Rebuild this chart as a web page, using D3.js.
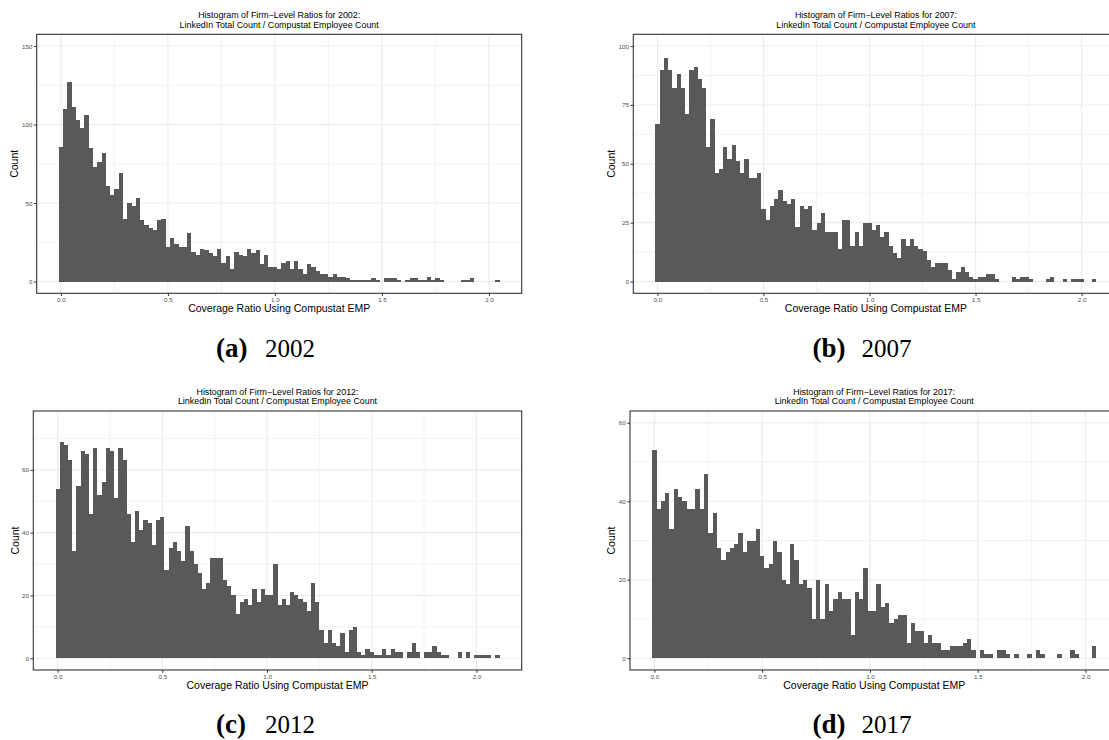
<!DOCTYPE html>
<html>
<head>
<meta charset="utf-8">
<script src="https://cdnjs.cloudflare.com/ajax/libs/d3/7.8.5/d3.min.js"></script>
<style>
  body { margin: 0; background: #fff; }
  svg { display: block; font-family: "Liberation Sans", Arial, sans-serif; }
</style>
</head>
<body>
<div id="chart"></div>
<script>
// histogram bins: width 0.02, first bin centred on 0
var binWidth = 0.02;
var binStart = -0.01;

var years = ["2002", "2007", "2012", "2017"];
var letters = ["(a)", "(b)", "(c)", "(d)"];

var counts2002 = [86,110,127,111,103,98,106,85,73,76, 82,61,55,59,69,40,50,48,53,39,
                  36,34,33,39,40,22,28,24,22,22, 31,19,17,21,20,18,16,21,12,16,
                  8,19,17,16,21,18,20,11,17,9, 9,8,12,13,
                  8,13,8,5,11,9,7,5,5,3, 5,3,3,2,1,1,1,1,1,2,
                  1,0,2,2,2,1,0,1,2,2, 1,1,3,1,2,1,0,0,0,0,
                  1,1,2,0,0,0,0,0,1];
var counts2007 = [67,90,95,90,82,88,82,71,90,91, 86,82,57,69,46,48,57,52,58,51,
                  46,52,44,44,46,31,26,32,35,39, 34,33,35,23,32,31,32,22,25,29,
                  21,21,21,14,26,26,
                  15,21,15,25,25,22,24,19,21,15, 12,10,18,15,18,15,14,13,9,6,
                  8,8,8,5,1,4,6,4,2,1, 2,2,3,3,1,0,0,0,2,1,
                  2,2,1,0,0,0,1,2,0,0, 1,0,1,1,1,0,0,1];
var counts2012 = [54,69,68,63,34,55,66,65,46,67, 52,56,67,66,51,67,63,46,37,47,
                  41,44,43,36,44,45,28,35,37,34, 31,42,34,30,27,22,24,32,32,32,
                  25,23,20,14,18,19,17,22,18,22, 20,20,30,17,19,17,
                  21,20,19,18,15,24,18,9,5,9, 5,4,8,2,9,10,2,1,3,2,
                  1,1,3,1,3,2,2,0,2,5, 2,0,2,2,4,2,1,1,0,0,
                  2,0,2,0,1,1,1,1,0,1];
var counts2017 = [53,38,40,42,33,43,41,40,38,38, 43,38,47,32,37,28,25,27,28,29,
                  32,27,30,30,33,26,23,24,30,27, 20,19,29,25,19,20,18,10,20,10,
                  19,12,15,17,15,15,
                  6,17,15,23,12,12,19,13,14,9, 10,11,11,4,9,7,7,4,6,4,
                  4,2,2,3,3,3,4,5,2,0, 2,1,1,0,2,2,1,0,1,0,
                  0,1,0,2,1,0,0,0,1,0, 0,2,1,0,0,0,3];

var allCounts = [counts2002, counts2007, counts2012, counts2017];

// y-axis limits and breaks
var yLimits = [150, 100, 75, 60];
var yBreaks = [[0, 50, 100, 150], [0, 25, 50, 75, 100], [0, 20, 40, 60], [0, 20, 40, 60]];
var xBreaks = [0, 0.5, 1, 1.5, 2];

// panel boxes on the page
var panels = [
    { left: 36.7,  right: 521.7,  top: 34.3, bottom: 293.3, yTitleX: 14.7,  capX: 264.5, capY: 356.7 },
    { left: 633.3, right: 1118.5, top: 34.3, bottom: 293.3, yTitleX: 611.7, capX: 861,   capY: 356.7 },
    { left: 33.3,  right: 521.7,  top: 411,  bottom: 670,   yTitleX: 15,    capX: 264.5, capY: 733.4 },
    { left: 630,   right: 1118.5, top: 411,  bottom: 670,   yTitleX: 611.7, capX: 861,   capY: 733.4 }
];

var W = 1109, H = 740;

var svg = d3.select("#chart").append("svg")
            .attr("width", W)
            .attr("height", H);

panels.forEach(function(p, i) {
    var counts = allCounts[i];
    var binEnd = binStart + counts.length * binWidth;
    var span = binEnd - binStart;

    var x = d3.scaleLinear()
              .domain([binStart - 0.05 * span, binEnd + 0.05 * span])
              .range([p.left, p.right]);

    var yTop = yLimits[i];
    var y = d3.scaleLinear()
              .domain([-0.05 * yTop, yTop * 1.05])
              .range([p.bottom, p.top]);

    var g = svg.append("g");

    // minor grid (midpoints between breaks)
    var yb = yBreaks[i];
    var step = yb[1] - yb[0];
    var yMinor = yb.map(d => d + step / 2).filter(d => d < y.domain()[1]);
    var xMinor = xBreaks.map(d => d + 0.25).filter(d => d < x.domain()[1]);

    g.selectAll(".ymin").data(yMinor).enter().append("line")
     .attr("x1", p.left).attr("x2", p.right)
     .attr("y1", d => y(d)).attr("y2", d => y(d))
     .attr("stroke", "#ebebeb").attr("stroke-width", 0.6);
    g.selectAll(".xmin").data(xMinor).enter().append("line")
     .attr("y1", p.top).attr("y2", p.bottom)
     .attr("x1", d => x(d)).attr("x2", d => x(d))
     .attr("stroke", "#ebebeb").attr("stroke-width", 0.6);

    // major grid
    g.selectAll(".ymaj").data(yb).enter().append("line")
     .attr("x1", p.left).attr("x2", p.right)
     .attr("y1", d => y(d)).attr("y2", d => y(d))
     .attr("stroke", "#ebebeb").attr("stroke-width", 1.1);
    g.selectAll(".xmaj").data(xBreaks).enter().append("line")
     .attr("y1", p.top).attr("y2", p.bottom)
     .attr("x1", d => x(d)).attr("x2", d => x(d))
     .attr("stroke", "#ebebeb").attr("stroke-width", 1.1);

    // bars
    var bins = counts.map(function(n, k) {
        return { x0: binStart + k * binWidth, x1: binStart + (k + 1) * binWidth, n: n };
    }).filter(d => d.n > 0);

    g.selectAll("rect.bar").data(bins).enter().append("rect")
     .attr("class", "bar")
     .attr("x", d => x(d.x0))
     .attr("width", d => x(d.x1) - x(d.x0))
     .attr("y", d => y(d.n))
     .attr("height", d => y(0) - y(d.n))
     .attr("fill", "#595959")
     .attr("shape-rendering", "crispEdges");

    // frame
    g.append("rect")
     .attr("x", p.left).attr("y", p.top)
     .attr("width", p.right - p.left).attr("height", p.bottom - p.top)
     .attr("fill", "none").attr("stroke", "#333333").attr("stroke-width", 1.1);

    // axes
    var yAxis = g.append("g")
                 .attr("transform", "translate(" + p.left + ",0)")
                 .call(d3.axisLeft(y).tickValues(yb).tickSize(2.75).tickPadding(1.6).tickFormat(d3.format("d")));
    var xAxis = g.append("g")
                 .attr("transform", "translate(0," + p.bottom + ")")
                 .call(d3.axisBottom(x).tickValues(xBreaks).tickSize(2.75).tickPadding(1.8).tickFormat(d3.format(".1f")));

    [yAxis, xAxis].forEach(function(ax) {
        ax.select(".domain").remove();
        ax.selectAll(".tick line").attr("stroke", "#333333").attr("stroke-width", 1);
        ax.selectAll(".tick text")
          .attr("fill", "#4d4d4d")
          .style("font-size", "6.2px")
          .style("font-family", "'Liberation Sans', Arial, sans-serif");
    });

    var cx = (p.left + p.right) / 2;

    // titles
    g.append("text")
     .attr("x", cx).attr("y", p.top - 16.5)
     .attr("text-anchor", "middle")
     .style("font-size", "8.9px")
     .text("Histogram of Firm\u2212Level Ratios for " + years[i] + ":");
    g.append("text")
     .attr("x", cx).attr("y", p.top - 6.8)
     .attr("text-anchor", "middle")
     .style("font-size", "8.9px")
     .text("LinkedIn Total Count / Compustat Employee Count");

    // axis titles
    g.append("text")
     .attr("x", cx).attr("y", p.bottom + 18.5)
     .attr("text-anchor", "middle")
     .style("font-size", "10.5px")
     .text("Coverage Ratio Using Compustat EMP");
    g.append("text")
     .attr("transform", "translate(" + (p.yTitleX + 3.7) + "," + ((p.top + p.bottom) / 2) + ") rotate(-90)")
     .attr("text-anchor", "middle")
     .style("font-size", "10.5px")
     .text("Count");

    // subfigure caption
    var cap = svg.append("text")
                 .attr("y", p.capY)
                 .style("font-family", "'Liberation Serif', 'DejaVu Serif', serif")
                 .attr("fill", "#000");
    cap.append("tspan")
       .attr("x", p.capX - 48.5)
       .attr("font-weight", "bold")
       .style("font-size", "27px")
       .text(letters[i]);
    cap.append("tspan")
       .attr("x", p.capX + 0.5)
       .style("font-size", "25px")
       .text(years[i]);
});
</script>
</body>
</html>
